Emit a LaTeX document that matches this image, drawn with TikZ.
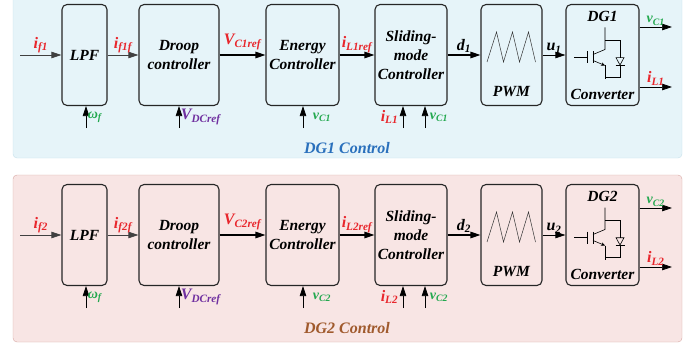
\documentclass[tikz,border=0pt]{standalone}
\usepackage{fontspec}
\setmainfont{Liberation Serif}
\usetikzlibrary{arrows.meta,calc}

\definecolor{sigred}{RGB}{232,38,44}
\definecolor{siggreen}{RGB}{34,168,78}
\definecolor{sigpurple}{RGB}{112,48,160}
\definecolor{ctlblue}{RGB}{42,112,188}
\definecolor{ctlbrown}{RGB}{160,90,45}
\definecolor{panelblue}{RGB}{230,244,249}
\definecolor{panelblueline}{RGB}{198,224,234}
\definecolor{panelpink}{RGB}{248,229,228}
\definecolor{panelpinkline}{RGB}{214,166,162}

\newcommand\blkfont{\bfseries\itshape\fontsize{15.5}{19}\selectfont}
\newcommand\sigfont{\bfseries\itshape\fontsize{16}{16}\selectfont}
\newcommand\smsigfont{\bfseries\itshape\fontsize{14}{14}\selectfont}

\tikzset{
  blk/.style={draw=black!85, line width=1.1pt, rounded corners=5pt,
    minimum height=101pt, inner sep=1pt, align=center, font=\blkfont},
  arr/.style={-{Triangle[length=10pt,width=6.5pt]}, line width=0.7pt},
  arrthick/.style={arr, line width=1.2pt},
  sig/.style={font=\sigfont, inner sep=1.5pt},
  smsig/.style={font=\smsigfont, inner sep=1.5pt},
  saw/.style={line width=0.5pt, black!80},
  ctl/.style={font=\bfseries\itshape\fontsize{16}{16}\selectfont},
}

\begin{document}
\begin{tikzpicture}[x=1pt,y=-1pt]
    \useasboundingbox (0,0) rectangle (699,345);

    % panels
    \draw[panelblueline, fill=panelblue, rounded corners=4pt] (13,-6) rectangle (682,158);
    \draw[panelpinkline, fill=panelpink, rounded corners=4pt] (13,175) rectangle (682,342);

    % ---- DG1 control ----
    \node[blk, minimum width=45pt] (lpfA) at (84.5,55) {LPF};
    \node[blk, minimum width=80pt] (droopA) at (179,55) {Droop\\controller};
    \node[blk, minimum width=73pt] (energyA) at (302.5,55) {Energy\\Controller};
    \node[blk, minimum width=72pt] (smcA) at (411,55) {Sliding-\\mode\\Controller};
    \node[blk, minimum width=61pt] (pwmA) at (511.5,55) {};
    \node[blk, minimum width=73pt] (convA) at (602.5,55) {};
    \node[font=\blkfont] (pwmtxtA) at ($(pwmA.south)+(0,-14.5)$) {PWM};
    \node[font=\blkfont] (dgA) at ($(convA.north)+(0,12.5)$) {DG1};
    \node[font=\blkfont] (cnvtxtA) at ($(convA.south)+(0,-11.5)$) {Converter};

    \draw[saw] ($(pwmA)+(-24.5,7)$) -- ++(9.5,-30) -- ++(7,30) -- ++(9,-30)
        -- ++(7,30) -- ++(9,-30) -- ++(7,30);

    \begin{scope}[shift={(convA.center)}, line width=0.6pt]
        \draw (-28.5,2.5) -- (-15.5,2.5);
        \draw (-15.5,-3.5) -- (-15.5,8.5);
        \draw[line width=1pt] (-9.5,-3.5) -- (-9.5,8.5);
        \draw (-9.5,-0.5) -- (2.5,-5.5) -- (2.5,-27.5);
        \draw[-{Stealth[length=4pt,width=3.5pt]}] (-9.5,5.5) -- (2.5,10.5);
        \draw (2.5,10.5) -- (2.5,24.5);
        \draw (2.5,-14.5) -- (17.5,-14.5) -- (17.5,2.7);
        \draw (13.5,2.7) -- (21.5,2.7) -- (17.5,10) -- cycle;
        \draw (13,10) -- (22,10);
        \draw (17.5,10) -- (17.5,22.5) -- (2.5,22.5);
    \end{scope}

    \coordinate (inA) at (20,55);
    \draw[arr, black!75] (inA) -- node[sig, above, text=sigred] {i\textsubscript{f1}} (lpfA);
    \draw[arr, black!75] (lpfA) -- node[sig, above, text=sigred] {i\textsubscript{f1f}} (droopA);
    \draw[arrthick] (droopA) -- node[sig, above=3pt, text=sigred] {V\textsubscript{C1ref}} (energyA);
    \draw[arrthick] (energyA) -- node[sig, above, text=sigred] {i\textsubscript{L1ref}} (smcA);
    \draw[arrthick] (smcA) -- node[sig, above] {d\textsubscript{1}} (pwmA);
    \draw[arr] (pwmA) -- node[sig, above] {u\textsubscript{1}} (convA);

    \coordinate (vcA) at (672,27);
    \coordinate (ilA) at (672,87);
    \draw[arr] (convA.east |- vcA) -- node[smsig, above, text=siggreen] {v\textsubscript{C1}} (vcA);
    \draw[arr] (convA.east |- ilA) -- node[sig, above, text=sigred] {i\textsubscript{L1}} (ilA);

    \coordinate (wfA) at (86,128);
    \coordinate (vdcA) at (179,128);
    \coordinate (vceA) at (303,128);
    \coordinate (ilsA) at (403,128);
    \coordinate (vcsA) at (425,128);
    \draw[arr] (wfA) -- node[smsig, right, text=siggreen] {ω\textsubscript{f}} (wfA |- lpfA.south);
    \draw[arr] (vdcA) -- node[sig, right, text=sigpurple] {V\textsubscript{DCref}} (vdcA |- droopA.south);
    \draw[arr] (vceA) -- node[smsig, right=8pt, text=siggreen] {v\textsubscript{C1}} (vceA |- energyA.south);
    \draw[arr] (ilsA) -- node[sig, left=3pt, text=sigred] {i\textsubscript{L1}} (ilsA |- smcA.south);
    \draw[arr] (vcsA) -- node[smsig, right=3pt, text=siggreen] {v\textsubscript{C1}} (vcsA |- smcA.south);

    \node[ctl, text=ctlblue] (ctlA) at (347,148) {DG1 Control};

    % ---- DG2 control ----
    \node[blk, minimum width=45pt] (lpfB) at (84.5,235) {LPF};
    \node[blk, minimum width=80pt] (droopB) at (179,235) {Droop\\controller};
    \node[blk, minimum width=73pt] (energyB) at (302.5,235) {Energy\\Controller};
    \node[blk, minimum width=72pt] (smcB) at (411,235) {Sliding-\\mode\\Controller};
    \node[blk, minimum width=61pt] (pwmB) at (511.5,235) {};
    \node[blk, minimum width=73pt] (convB) at (602.5,235) {};
    \node[font=\blkfont] (pwmtxtB) at ($(pwmB.south)+(0,-14.5)$) {PWM};
    \node[font=\blkfont] (dgB) at ($(convB.north)+(0,12.5)$) {DG2};
    \node[font=\blkfont] (cnvtxtB) at ($(convB.south)+(0,-11.5)$) {Converter};

    \draw[saw] ($(pwmB)+(-24.5,7)$) -- ++(9.5,-30) -- ++(7,30) -- ++(9,-30)
        -- ++(7,30) -- ++(9,-30) -- ++(7,30);

    \begin{scope}[shift={(convB.center)}, line width=0.6pt]
        \draw (-28.5,2.5) -- (-15.5,2.5);
        \draw (-15.5,-3.5) -- (-15.5,8.5);
        \draw[line width=1pt] (-9.5,-3.5) -- (-9.5,8.5);
        \draw (-9.5,-0.5) -- (2.5,-5.5) -- (2.5,-27.5);
        \draw[-{Stealth[length=4pt,width=3.5pt]}] (-9.5,5.5) -- (2.5,10.5);
        \draw (2.5,10.5) -- (2.5,24.5);
        \draw (2.5,-14.5) -- (17.5,-14.5) -- (17.5,2.7);
        \draw (13.5,2.7) -- (21.5,2.7) -- (17.5,10) -- cycle;
        \draw (13,10) -- (22,10);
        \draw (17.5,10) -- (17.5,22.5) -- (2.5,22.5);
    \end{scope}

    \coordinate (inB) at (20,235);
    \draw[arr, black!75] (inB) -- node[sig, above, text=sigred] {i\textsubscript{f2}} (lpfB);
    \draw[arr, black!75] (lpfB) -- node[sig, above, text=sigred] {i\textsubscript{f2f}} (droopB);
    \draw[arrthick] (droopB) -- node[sig, above=3pt, text=sigred] {V\textsubscript{C2ref}} (energyB);
    \draw[arrthick] (energyB) -- node[sig, above, text=sigred] {i\textsubscript{L2ref}} (smcB);
    \draw[arrthick] (smcB) -- node[sig, above] {d\textsubscript{2}} (pwmB);
    \draw[arr] (pwmB) -- node[sig, above] {u\textsubscript{2}} (convB);

    \coordinate (vcB) at (672,208);
    \coordinate (ilB) at (672,267);
    \draw[arr] (convB.east |- vcB) -- node[smsig, above, text=siggreen] {v\textsubscript{C2}} (vcB);
    \draw[arr] (convB.east |- ilB) -- node[sig, above, text=sigred] {i\textsubscript{L2}} (ilB);

    \coordinate (wfB) at (86,308);
    \coordinate (vdcB) at (179,308);
    \coordinate (vceB) at (303,308);
    \coordinate (ilsB) at (403,308);
    \coordinate (vcsB) at (425,308);
    \draw[arr] (wfB) -- node[smsig, right, text=siggreen] {ω\textsubscript{f}} (wfB |- lpfB.south);
    \draw[arr] (vdcB) -- node[sig, right, text=sigpurple] {V\textsubscript{DCref}} (vdcB |- droopB.south);
    \draw[arr] (vceB) -- node[smsig, right=8pt, text=siggreen] {v\textsubscript{C2}} (vceB |- energyB.south);
    \draw[arr] (ilsB) -- node[sig, left=3pt, text=sigred] {i\textsubscript{L2}} (ilsB |- smcB.south);
    \draw[arr] (vcsB) -- node[smsig, right=3pt, text=siggreen] {v\textsubscript{C2}} (vcsB |- smcB.south);

    \node[ctl, text=ctlbrown] (ctlB) at (347,328) {DG2 Control};
\end{tikzpicture}
\end{document}
